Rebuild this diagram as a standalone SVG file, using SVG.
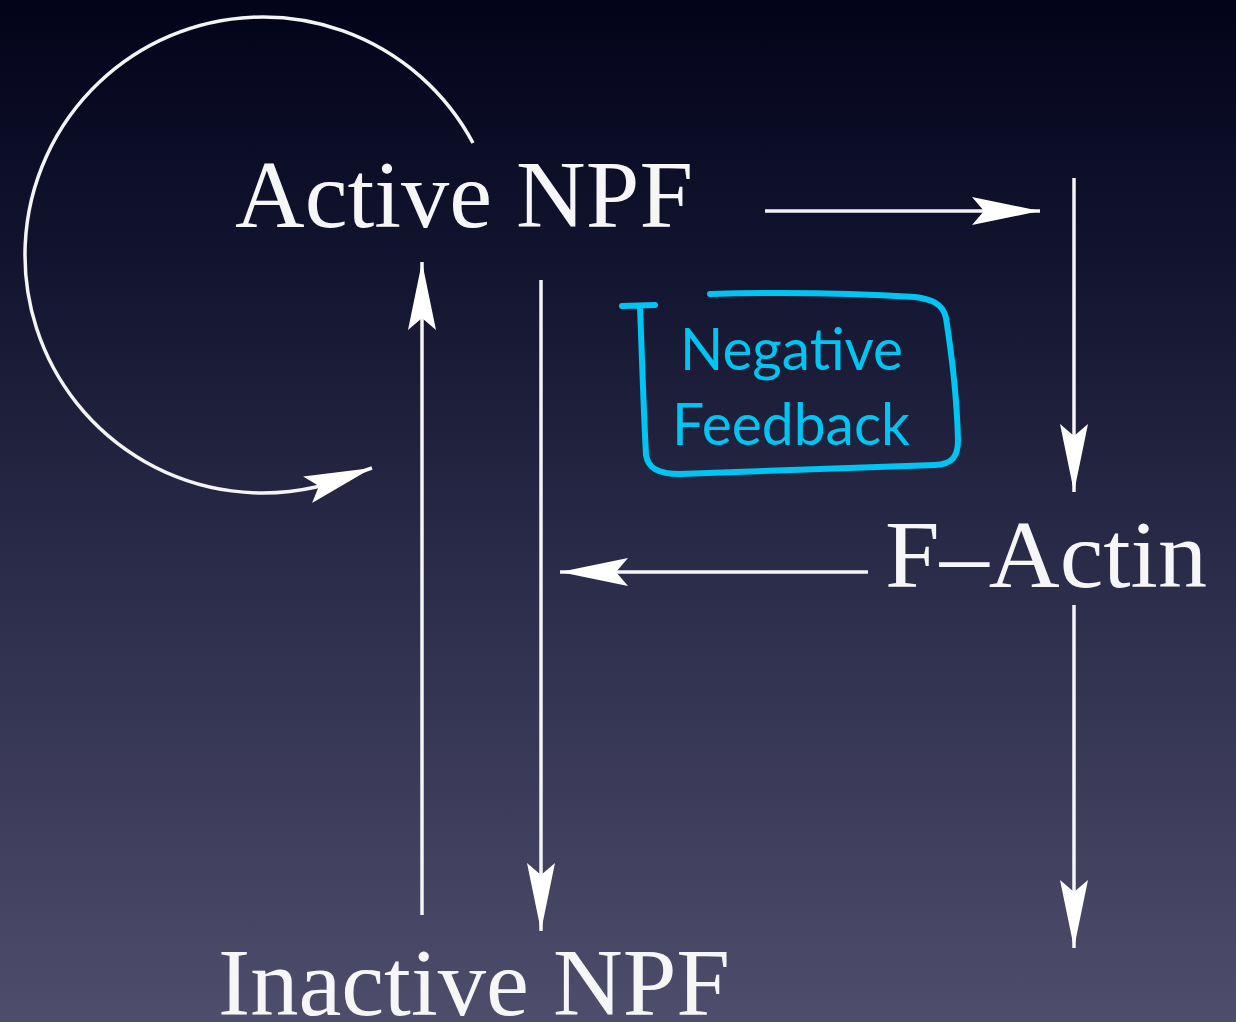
<svg xmlns="http://www.w3.org/2000/svg" width="1236" height="1022" viewBox="0 0 1236 1022">
<defs>
<linearGradient id="bg" x1="0" y1="0" x2="0" y2="1">
<stop offset="0" stop-color="#03041a"/>
<stop offset="0.25" stop-color="#12132e"/>
<stop offset="0.55" stop-color="#2a2b48"/>
<stop offset="1" stop-color="#4e4d6c"/>
</linearGradient>
<marker id="ah" markerUnits="userSpaceOnUse" markerWidth="80" markerHeight="40" viewBox="-70 -20 80 40" refX="0" refY="0" orient="auto">
<path d="M0 0 L-68 -14 L-56 0 L-68 14 Z" fill="#ffffff"/>
</marker>
<style>
.ln{stroke:#f4f4f4;stroke-width:3.5;fill:none}
.tm{font-family:"Liberation Serif","Times New Roman",serif;fill:#f6f6f6;font-size:96px}
.cy{font-family:Lato,"Open Sans",sans-serif;fill:#00c4f2;font-size:58px}
</style>
</defs>
<rect width="1236" height="1022" fill="url(#bg)"/>
<g id="connectors">
<path class="ln" d="M473 143 A238 238 0 1 0 316 487 L372 468" marker-end="url(#ah)" stroke-width="3"/>
<line class="ln" x1="422" y1="915" x2="422" y2="262" marker-end="url(#ah)"/>
<line class="ln" x1="541" y1="280" x2="541" y2="931" marker-end="url(#ah)"/>
<line class="ln" x1="765" y1="211" x2="1040" y2="211" marker-end="url(#ah)"/>
<line class="ln" x1="1074" y1="178" x2="1074" y2="492" marker-end="url(#ah)"/>
<line class="ln" x1="1074" y1="605" x2="1074" y2="948" marker-end="url(#ah)"/>
<line class="ln" x1="868" y1="572" x2="560" y2="572" marker-end="url(#ah)"/>
</g>
<g id="active-npf"><text class="tm" x="235" y="227" textLength="458" lengthAdjust="spacingAndGlyphs">Active NPF</text></g>
<g id="f-actin"><text class="tm" x="885" y="587" textLength="322" lengthAdjust="spacingAndGlyphs">F–Actin</text></g>
<g id="inactive-npf"><text class="tm" x="218" y="1015" textLength="512" lengthAdjust="spacingAndGlyphs">Inactive NPF</text></g>
<g id="negative-feedback">
<path d="M622 306 L655 305 M640 306 C642 360 644 420 646 455 C648 468 658 474 680 474 L935 465 C953 464 958 456 958 440 C957 400 951 350 946 318 C943 303 930 299 915 297 C850 293 780 292 710 294" fill="none" stroke="#00c4f2" stroke-width="6" stroke-linecap="round" stroke-linejoin="round"/>
<text class="cy" x="680" y="370" textLength="223" lengthAdjust="spacingAndGlyphs">Negative</text>
<text class="cy" x="672" y="445" textLength="238" lengthAdjust="spacingAndGlyphs">Feedback</text>
</g>
</svg>
